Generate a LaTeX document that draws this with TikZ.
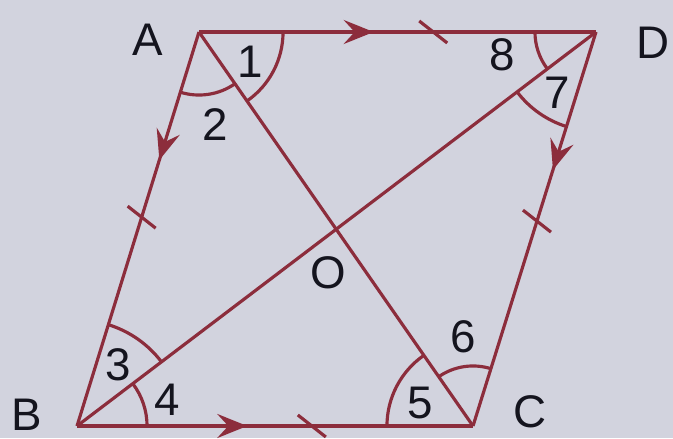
\documentclass[tikz,border=0pt]{standalone}
\usepackage{fontspec}
\setmainfont{Liberation Sans}
\usetikzlibrary{angles,arrows.meta,calc,decorations.markings}
\definecolor{paper}{RGB}{210,211,222}
\definecolor{edge}{RGB}{140,45,60}
\definecolor{ink}{RGB}{20,20,30}
\tikzset{
  side/.style={draw=edge, line width=0.9pt},
  arrowat/.style={postaction={decorate, decoration={markings,
    mark=at position #1 with {\arrow[edge]{Stealth[length=3mm,width=2.4mm,inset=1.1mm]}}}}},
  ang/.style={draw=edge, line width=0.9pt, angle radius=#1},
  lbl/.style={text=ink, font=\fontsize{13}{15}\selectfont, inner sep=0pt},
}
\begin{document}
\begin{tikzpicture}[x=0.01cm, y=0.01cm]
  \fill[paper] (0,0) rectangle (673,438);
  \coordinate (A) at (199,406);
  \coordinate (D) at (596,406);
  \coordinate (B) at (77,12);
  \coordinate (C) at (473,12);
  % sides and diagonals
  \draw[side, arrowat=0.44] (A) -- (D);
  \draw[side, arrowat=0.325] (A) -- (B);
  \draw[side, arrowat=0.35] (D) -- (C);
  \draw[side, arrowat=0.43] (B) -- (C);
  \draw[side] (A) -- (C);
  \draw[side] (B) -- (D);
  % equal sides
  \coordinate (tAD) at ($(A)!0.59!(D)$);
  \coordinate (tAB) at ($(A)!0.47!(B)$);
  \coordinate (tDC) at ($(D)!0.48!(C)$);
  \coordinate (tBC) at ($(B)!0.593!(C)$);
  \foreach \t in {tAD,tAB,tDC,tBC}
    \draw[side] ([shift={(-14,11)}]\t) -- ([shift={(14,-11)}]\t);
  % angles
  \pic[ang=0.84cm] {angle=C--A--D};
  \pic[ang=0.63cm] {angle=B--A--C};
  \pic[ang=0.61cm] {angle=A--D--B};
  \pic[ang=0.99cm] {angle=B--D--C};
  \pic[ang=1.06cm] {angle=D--B--A};
  \pic[ang=0.70cm] {angle=C--B--D};
  \pic[ang=0.86cm] {angle=A--C--B};
  \pic[ang=0.60cm] {angle=D--C--A};
  % labels
  \node[lbl] (lA) at (148,398) {A};
  \node[lbl] (lD) at (653,395) {D};
  \node[lbl] (lB) at (27,23) {B};
  \node[lbl] (lC) at (530,26) {C};
  \node[lbl] (lO) at (328,165) {O};
  \node[lbl] (l1) at (250,376) {1};
  \node[lbl] (l2) at (215,313) {2};
  \node[lbl] (l3) at (118,73) {3};
  \node[lbl] (l4) at (167,38) {4};
  \node[lbl] (l5) at (420,35) {5};
  \node[lbl] (l6) at (463,101) {6};
  \node[lbl] (l7) at (557,345) {7};
  \node[lbl] (l8) at (502,383) {8};
\end{tikzpicture}
\end{document}
